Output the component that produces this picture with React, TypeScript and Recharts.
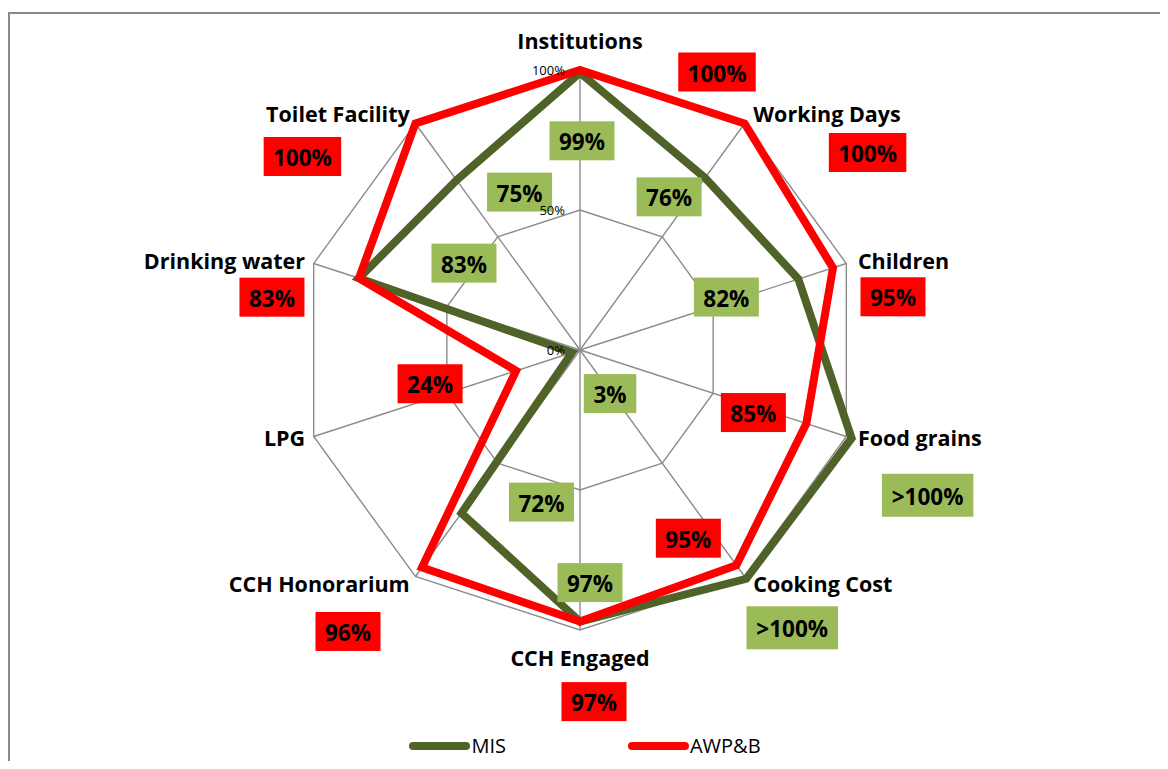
import React from "react";
import {
  RadarChart,
  Radar,
  PolarGrid,
  PolarAngleAxis,
  PolarRadiusAxis,
  Legend,
} from "recharts";

const categories = [
  "Institutions",
  "Working Days",
  "Children",
  "Food grains",
  "Cooking Cost",
  "CCH Engaged",
  "CCH Honorarium",
  "LPG",
  "Drinking water",
  "Toilet Facility",
];
const misValues = [99, 76, 82, 102, 101, 97, 72, 3, 83, 75];
const awpValues = [100, 100, 95, 85, 95, 97, 96, 24, 83, 100];
const misLabels = ["99%", "76%", "82%", ">100%", ">100%", "97%", "72%", "3%", "83%", "75%"];
const awpLabels = ["100%", "100%", "95%", "85%", "95%", "97%", "96%", "24%", "83%", "100%"];
const radiusTicks = [0, 50, 100];
const seriesOrder = ["MIS", "AWP&B"];

// data labels were dragged by hand in the original, so keep their offsets from each point
const misLabelOffsets = [
  [2, 68], [-36, 19], [-72, 18], [76, 57], [46, 49],
  [10, -39], [80, -11], [38, 41], [105, -15], [63, 12],
];
const awpLabelOffsets = [
  [137, 2], [123, 29], [60, 29], [-53, -11], [-48, -27],
  [14, 80], [-74, 64], [-86, 13], [-87, 19], [-113, 33],
];

const chartData = categories.map((category, i) => ({
  category,
  mis: misValues[i],
  awp: awpValues[i],
}));

const FONT = "'Open Sans', 'Noto Sans', sans-serif";
const GREEN_LINE = "#4F6228";
const GREEN_BOX = "#9BBB59";
const RED = "#FF0000";
const CX = 570;
const CY = 336;

function boxWidth(text: string) {
  let w = 20;
  for (const ch of text) {
    if (ch === "%") w += 20;
    else if (ch === ">") w += 14;
    else w += 12.5;
  }
  return w;
}

function makeValueLabel(texts: string[], offsets: number[][], fill: string) {
  return (props: any) => {
    const { x, y, index } = props;
    if (index == null || texts[index] == null) return null;
    const text = texts[index];
    const [dx, dy] = offsets[index];
    const w = boxWidth(text);
    const h = text.length > 4 ? 43 : 39;
    const lx = x + dx;
    const ly = y + dy;
    return (
      <g>
        <rect x={lx - w / 2} y={ly - h / 2} width={w} height={h} fill={fill} />
        <text
          x={lx}
          y={ly + 1}
          textAnchor="middle"
          dominantBaseline="central"
          fontFamily={FONT}
          fontSize={22.5}
          fontWeight="bold"
          fill="#000"
        >
          {text}
        </text>
      </g>
    );
  };
}

function AngleTick(props: any) {
  const { x, y, payload, textAnchor } = props;
  let dx = 0;
  let dy = 0;
  if (textAnchor === "start") dx = 4;
  else if (textAnchor === "end") dx = -1;
  else dy = y < CY ? -22 : 19;
  if (textAnchor !== "middle") dy = y < CY - 150 ? -4 : y > CY + 150 ? 1 : -1;
  return (
    <text
      x={x + dx}
      y={y + dy}
      textAnchor={textAnchor}
      dominantBaseline="central"
      fontFamily={FONT}
      fontSize={21.5}
      fontWeight="bold"
      fill="#000"
    >
      {payload.value}
    </text>
  );
}

function RadiusTick(props: any) {
  const { x, y, payload } = props;
  return (
    <text
      x={x - 15}
      y={y}
      textAnchor="end"
      dominantBaseline="central"
      fontFamily={FONT}
      fontSize={13}
      fill="#000"
    >
      {payload.value}%
    </text>
  );
}

function LegendContent(props: any) {
  const items = [...(props.payload || [])].sort(
    (a: any, b: any) => seriesOrder.indexOf(a.value) - seriesOrder.indexOf(b.value)
  );
  return (
    <div
      style={{
        display: "flex",
        justifyContent: "center",
        gap: 122,
        fontFamily: FONT,
        fontSize: 20,
        lineHeight: "28px",
        color: "#000",
      }}
    >
      {items.map((item: any) => (
        <div key={item.value} style={{ display: "flex", alignItems: "center" }}>
          <span
            style={{
              display: "inline-block",
              width: 61,
              height: 8,
              borderRadius: 4,
              background: item.color,
            }}
          />
          <span style={{ marginLeft: 1 }}>{item.value}</span>
        </div>
      ))}
    </div>
  );
}

export default function App() {
  return (
    <div
      style={{
        marginTop: 4,
        width: 1152,
        height: 749,
        boxSizing: "border-box",
        borderTop: "2px solid #898989",
        borderLeft: "2px solid #898989",
        background: "#fff",
      }}
    >
      <RadarChart
        width={1150}
        height={747}
        data={chartData}
        cx={CX}
        cy={CY}
        outerRadius={280}
        startAngle={90}
        endAngle={-270}
        margin={{ top: 0, right: 0, bottom: 0, left: 0 }}
      >
        <PolarGrid gridType="polygon" stroke="#8c8c8c" strokeWidth={1.4} />
        <PolarAngleAxis
          dataKey="category"
          tick={AngleTick}
          tickLine={false}
          axisLine={false}
        />
        <Radar
          name="MIS"
          dataKey="mis"
          stroke={GREEN_LINE}
          strokeWidth={8}
          fill="none"
          fillOpacity={0}
          dot={false}
          isAnimationActive={false}
          label={makeValueLabel(misLabels, misLabelOffsets, GREEN_BOX)}
        />
        <Radar
          name="AWP&B"
          dataKey="awp"
          stroke={RED}
          strokeWidth={8}
          fill="none"
          fillOpacity={0}
          dot={false}
          isAnimationActive={false}
          label={makeValueLabel(awpLabels, awpLabelOffsets, RED)}
        />
        <PolarRadiusAxis
          angle={90}
          domain={[0, 100]}
          ticks={radiusTicks as any}
          tickCount={3}
          allowDataOverflow
          axisLine={false}
          tickLine={false}
          tick={RadiusTick}
          {...({ zIndex: 2000 } as any)}
        />
        <Legend
          content={LegendContent}
          wrapperStyle={{ left: 0, top: 718, width: 1150, bottom: "auto" }}
        />
      </RadarChart>
    </div>
  );
}
